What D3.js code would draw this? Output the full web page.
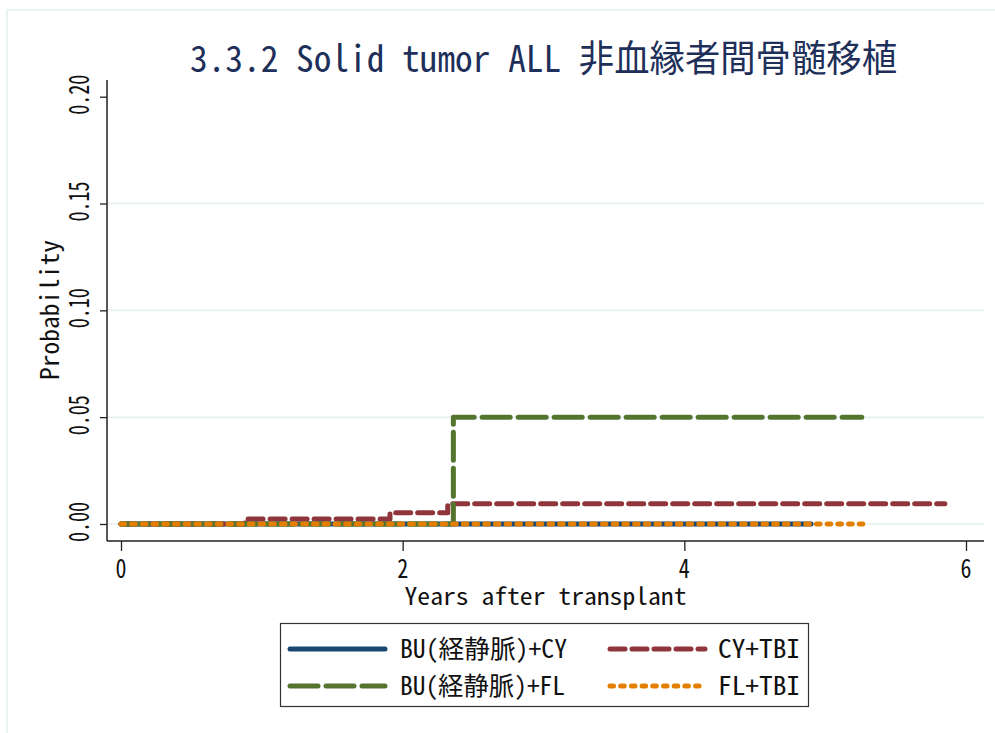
<!DOCTYPE html>
<html><head><meta charset="utf-8">
<script src="https://cdn.jsdelivr.net/npm/d3@7"></script>
<style>body{margin:0;background:#fff}svg{display:block}</style>
</head><body>
<script>
// ---- data ----
const title = "3.3.2 Solid tumor ALL 非血縁者間骨髄移植";
const xLabel = "Years after transplant";
const yLabel = "Probability";
const xTicks = [0, 2, 4, 6];
const yTicks = [0, 0.05, 0.10, 0.15, 0.20];
const yTickLabels = ["0.00", "0.05", "0.10", "0.15", "0.20"];
const seriesNames = ["BU(経静脈)+CY", "CY+TBI", "BU(経静脈)+FL", "FL+TBI"];
const buCyTimes = [0, 4.9];
const buCyValues = [0, 0];
const cyTbiTimes = [0, 0.88, 1.91, 2.32, 5.85];
const cyTbiValues = [0, 0.0023, 0.0053, 0.0095, 0.0095];
const buFlTimes = [0, 2.36, 5.26];
const buFlValues = [0, 0.05, 0.05];
const flTbiTimes = [0, 5.28];
const flTbiValues = [0, 0];

(function () {
const colors = ["#1a476f", "#90353b", "#55752f", "#e37e00"];
const dashes = [null, "15,7", "28,8", "3.5,7.2"];
const series = [
  {name: seriesNames[0], t: buCyTimes, v: buCyValues, c: colors[0], d: dashes[0]},
  {name: seriesNames[1], t: cyTbiTimes, v: cyTbiValues, c: colors[1], d: dashes[1]},
  {name: seriesNames[2], t: buFlTimes, v: buFlValues, c: colors[2], d: dashes[2]},
  {name: seriesNames[3], t: flTbiTimes, v: flTbiValues, c: colors[3], d: dashes[3]},
];

const W = 995, H = 733;
const font = "'Noto Sans Mono CJK JP','Noto Sans CJK JP','DejaVu Sans Mono',monospace";
const svg = d3.select("body").append("svg").attr("width", W).attr("height", H)
  .style("font-family", font).style("font-weight", 300);

// outer frame
svg.append("rect").attr("x", 7).attr("y", 10).attr("width", 1000).attr("height", 740)
  .attr("fill", "none").attr("stroke", "#eaf2f3").attr("stroke-width", 2);

const pLeft = 107, pRight = 984, pTop = 80, pBottom = 541;
const x = d3.scaleLinear().domain([0, 6]).range([121, 966]);
const y = d3.scaleLinear().domain([0, 0.20]).range([524, 96.7]);

// gridlines
svg.append("g").selectAll("line").data(yTicks.filter(d => d < 0.2)).join("line")
  .attr("x1", pLeft).attr("x2", pRight).attr("y1", d => y(d)).attr("y2", d => y(d))
  .attr("stroke", "#eaf2f3").attr("stroke-width", 2);

// axes
const yAxis = svg.append("g").attr("transform", `translate(${pLeft},0)`)
  .call(d3.axisLeft(y).tickValues(yTicks).tickSize(7).tickFormat((d, i) => yTickLabels[i]));
yAxis.select(".domain").remove();
yAxis.selectAll(".tick line").attr("stroke", "#222").attr("stroke-width", 1.3);
yAxis.selectAll(".tick text").remove();
svg.append("line").attr("x1", pLeft).attr("x2", pLeft).attr("y1", pTop).attr("y2", pBottom)
  .attr("stroke", "#222").attr("stroke-width", 1.5);

svg.append("g").selectAll("text").data(yTicks).join("text")
  .attr("transform", d => `translate(89,${y(d) - 2}) rotate(-90)`)
  .attr("text-anchor", "middle").attr("font-size", 28).attr("fill", "#111")
  .attr("textLength", 40).attr("lengthAdjust", "spacingAndGlyphs")
  .text((d, i) => yTickLabels[i]);

const xAxis = svg.append("g").attr("transform", `translate(0,${pBottom})`)
  .call(d3.axisBottom(x).tickValues(xTicks).tickSize(10).tickFormat(d3.format("d")));
xAxis.select(".domain").remove();
xAxis.selectAll(".tick line").attr("stroke", "#222").attr("stroke-width", 1.3);
xAxis.selectAll(".tick text").remove();
svg.append("line").attr("x1", pLeft).attr("x2", pRight).attr("y1", pBottom).attr("y2", pBottom)
  .attr("stroke", "#222").attr("stroke-width", 1.5);
svg.append("g").selectAll("text").data(xTicks).join("text")
  .attr("x", d => x(d)).attr("y", 578).attr("text-anchor", "middle")
  .attr("font-size", 26).attr("fill", "#111")
  .attr("textLength", 11).attr("lengthAdjust", "spacingAndGlyphs")
  .text(d => d3.format("d")(d));

// axis titles
svg.append("text").attr("x", 545.5).attr("y", 605).attr("text-anchor", "middle")
  .attr("font-size", 24).attr("fill", "#111")
  .attr("textLength", 282).attr("lengthAdjust", "spacingAndGlyphs").text(xLabel);
svg.append("text").attr("transform", "translate(59,310) rotate(-90)").attr("text-anchor", "middle")
  .attr("font-size", 25).attr("fill", "#111")
  .attr("textLength", 140).attr("lengthAdjust", "spacingAndGlyphs").text(yLabel);

// title
svg.append("text").attr("x", 543.5).attr("y", 72).attr("text-anchor", "middle")
  .attr("font-size", 37).attr("fill", "#1e2f5a")
  .attr("textLength", 707).attr("lengthAdjust", "spacingAndGlyphs").text(title);

// lines
const line = d3.line().curve(d3.curveStepAfter).x(d => x(d[0])).y(d => y(d[1]));
svg.append("g").selectAll("path").data(series).join("path")
  .attr("d", s => line(s.t.map((t, i) => [t, s.v[i]])))
  .attr("fill", "none").attr("stroke", s => s.c).attr("stroke-width", 5)
  .attr("stroke-linecap", "round").attr("stroke-linejoin", "round")
  .attr("stroke-dasharray", s => s.d);

// legend
svg.append("rect").attr("x", 280.5).attr("y", 623.5).attr("width", 528).attr("height", 83)
  .attr("fill", "#fff").attr("stroke", "#333").attr("stroke-width", 1.2);
const legPos = [
  {lx: 290, ty: 658, tx: 400, w: 167},
  {lx: 610, ty: 658, tx: 718, w: 82},
  {lx: 290, ty: 695, tx: 400, w: 165},
  {lx: 610, ty: 695, tx: 718, w: 82},
];
const lg = svg.append("g").selectAll("g").data(series).join("g");
lg.append("line")
  .attr("x1", (s, i) => legPos[i].lx).attr("x2", (s, i) => legPos[i].lx + 95)
  .attr("y1", (s, i) => legPos[i].ty - 9).attr("y2", (s, i) => legPos[i].ty - 9)
  .attr("stroke", s => s.c).attr("stroke-width", 5).attr("stroke-linecap", "round")
  .attr("stroke-dasharray", s => s.d);
lg.append("text").attr("x", (s, i) => legPos[i].tx).attr("y", (s, i) => legPos[i].ty)
  .attr("font-size", 25).attr("fill", "#111")
  .attr("textLength", (s, i) => legPos[i].w).attr("lengthAdjust", "spacingAndGlyphs")
  .text(s => s.name);
})();
</script>
</body></html>
